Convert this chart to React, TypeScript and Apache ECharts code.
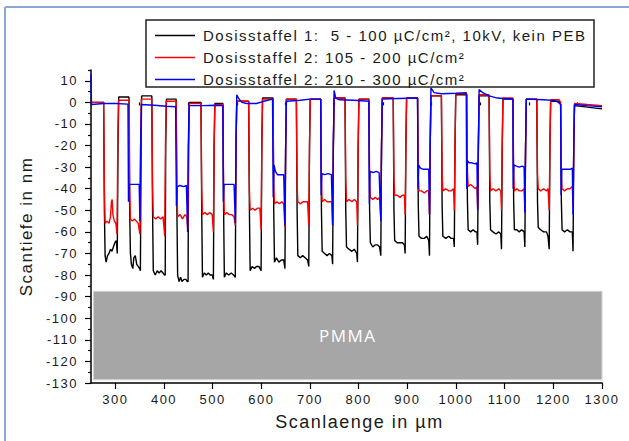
import React, { useEffect, useRef } from "react";
import * as echarts from "echarts";

const seriesNames = [
  "Dosisstaffel 1:  5 - 100 µC/cm², 10kV, kein PEB",
  "Dosisstaffel 2: 105 - 200 µC/cm²",
  "Dosisstaffel 2: 210 - 300 µC/cm²",
];
const seriesColors = ["#000000", "#ff0000", "#0000ff"];

const xMajorTicks = [300, 400, 500, 600, 700, 800, 900, 1000, 1100, 1200, 1300];
const xMinorTicks = [250, 350, 450, 550, 650, 750, 850, 950, 1050, 1150, 1250];
const yMajorTicks = [-130, -120, -110, -100, -90, -80, -70, -60, -50, -40, -30, -20, -10, 0, 10];
const yMinorTicks = [-125, -115, -105, -95, -85, -75, -65, -55, -45, -35, -25, -15, -5, 5, 15];

const pmmaBox = { x0: 255, x1: 1300, y0: -87.5, y1: -128.5, label: "PMMA" };

const black = [
  [250, 0], [276, 0],
  [277.5, -50], [279, -71], [281, -74], [284, -71], [287, -70], [290, -68], [293, -69], [296, -67], [299, -65], [302, -64], [304, -70], [305.5, -20], [307, 2.5],
  [328, 2.5],
  [329.5, -50], [331, -70], [333, -75], [336, -77], [338, -72], [341, -71], [344, -75], [347, -76], [350, -77], [351.5, -78], [353, -20], [354, 3],
  [375, 3],
  [376.5, -50], [378, -78], [382, -80], [386, -78], [390, -79], [394, -78], [398, -79], [401, -80], [402.5, -80], [403.5, -20], [405, 1.5],
  [425, 1.5],
  [426.5, -50], [428, -80], [431, -83], [434, -81], [437, -83], [441, -82], [445, -82], [448, -83], [449.5, -83], [450.5, -20], [452, 0],
  [476, 0],
  [477.5, -50], [479, -81], [483, -79], [487, -80], [491, -79], [495, -80], [499, -80], [501.5, -82], [503, -20], [504.5, -0.5],
  [521, -0.5],
  [522.5, -50], [524, -81], [528, -79], [533, -80], [538, -79], [543, -80], [546.5, -81], [548, -20], [549.5, 0.5],
  [574, 0.5],
  [575.5, -50], [577, -78], [581, -76], [586, -77], [590, -76], [595, -76], [599.5, -78], [601, -20], [602.5, 2],
  [624, 2],
  [625.5, -50], [627, -74], [631, -72], [636, -74], [641, -73], [646, -73], [648.5, -77], [650, -20], [651.5, 1.5],
  [672, 1.5],
  [673.5, -50], [675, -71], [680, -72], [685, -71], [690, -72], [695, -73], [697.5, -76], [699, -20], [700.5, 1.5],
  [722, 1.5],
  [723.5, -50], [725, -69], [730, -70], [735, -71], [740, -70], [745, -71], [746.5, -75], [748, -20], [749.5, 2],
  [772, 2],
  [773.5, -50], [775, -67], [780, -68], [786, -69], [791, -68], [796, -70], [797.5, -74], [799, -20], [800.5, 1.5],
  [821, 1.5],
  [822.5, -50], [824, -65], [829, -67], [834, -66], [839, -66], [843, -67], [845.5, -71], [847, -20], [848.5, 2],
  [871, 2],
  [872.5, -50], [874, -64], [879, -65], [885, -65], [890, -65], [894, -66], [895.5, -70], [897, -20], [898.5, 2],
  [921, 2],
  [922.5, -48], [924, -62], [929, -63], [935, -63], [940, -62], [944, -64], [945.5, -71], [947, -20], [948.5, 3],
  [970, 3],
  [971.5, -48], [973, -62], [979, -63], [985, -62], [990, -63], [995, -63], [996.5, -67], [998, -20], [999.5, 3.5],
  [1022, 3.5],
  [1023.5, -46], [1025, -59], [1030, -60], [1035, -59], [1040, -60], [1043, -60], [1044.5, -66], [1046, -20], [1047.5, 3],
  [1068, 3],
  [1069.5, -46], [1071, -59], [1076, -60], [1082, -61], [1088, -60], [1092, -61], [1093.5, -68], [1095, -20], [1096.5, 1.5],
  [1117, 1.5],
  [1118.5, -46], [1120, -59], [1125, -59], [1130, -60], [1135, -59], [1140, -60], [1141.5, -67], [1143, -20], [1144.5, 1.5],
  [1166, 1.5],
  [1167.5, -46], [1169, -58], [1174, -59], [1180, -60], [1186, -60], [1189, -62], [1191.5, -68], [1193, -20], [1194.5, 0.5],
  [1212, 0.5], [1215, -1],
  [1216.5, -46], [1218, -59], [1223, -60], [1229, -59], [1234, -60], [1239, -60], [1240.5, -69], [1242, -20], [1243.5, -1.5],
  [1270, -2.2], [1300, -3],
];

const red = [
  [250, 0], [276, 0],
  [277.5, -40], [279, -56], [283, -55], [287, -56], [290, -53], [292, -46], [293.5, -45], [295, -52], [298, -55], [301, -56], [303.5, -61], [305, -20], [306.5, 1],
  [328.5, 1],
  [329.5, -40], [331, -54], [335, -55], [339, -54], [343, -55], [347, -56], [350.5, -61], [352, -20], [353.5, 1.5],
  [375, 1.5],
  [376.5, -40], [378, -53], [383, -54], [388, -53], [393, -54], [398, -53], [401.5, -62], [403, -20], [404.5, 0.5],
  [425, 0.5],
  [426.5, -40], [428, -53], [433, -52], [438, -54], [443, -52], [447, -53], [449, -59], [450.5, -20], [452, -0.5],
  [476, -0.5],
  [477.5, -40], [479, -52], [484, -51], [489, -52], [494, -51], [499, -52], [501.5, -60], [503, -20], [504.5, -1],
  [521, -1],
  [522.5, -40], [524, -52], [529, -51], [534, -52], [539, -52], [544, -53], [546.5, -57], [548, -20], [549.5, 0.5],
  [574, 0.5],
  [575.5, -40], [577, -50], [582, -49], [587, -50], [592, -49], [597, -49], [599.5, -59], [601, -20], [602.5, 1.5],
  [624, 1.5],
  [625.5, -38], [627, -47], [632, -46], [637, -47], [642, -46], [646, -47], [648.5, -58], [650, -20], [651.5, 1.5],
  [672, 1.5],
  [673.5, -38], [675, -46], [680, -47], [686, -46], [691, -46], [695, -46], [697.5, -57], [699, -20], [700.5, 1.5],
  [722, 1.5],
  [723.5, -36], [725, -46], [730, -45], [735, -46], [740, -46], [745, -46], [746.5, -57], [748, -20], [749.5, 2],
  [772, 2],
  [773.5, -36], [775, -46], [780, -45], [786, -46], [791, -45], [796, -46], [797.5, -57], [799, -20], [800.5, 1.5],
  [821, 1.5],
  [822.5, -36], [824, -44], [829, -45], [834, -44], [839, -45], [843, -44], [845.5, -54], [847, -20], [848.5, 2],
  [871, 2],
  [872.5, -35], [874, -43], [879, -43], [885, -44], [890, -43], [894, -43], [895.5, -52], [897, -20], [898.5, 2],
  [921, 2],
  [922.5, -34], [924, -41], [929, -41], [935, -42], [940, -41], [944, -41], [945.5, -52], [947, -20], [948.5, 3],
  [970, 3],
  [971.5, -34], [973, -41], [979, -40], [985, -41], [990, -41], [995, -40], [996.5, -50], [998, -20], [999.5, 4],
  [1022, 4],
  [1023.5, -32], [1025, -39], [1030, -38], [1035, -39], [1040, -40], [1043, -39], [1044.5, -49], [1046, -20], [1047.5, 3.5],
  [1068, 3.5],
  [1069.5, -33], [1071, -41], [1076, -40], [1082, -41], [1088, -40], [1092, -41], [1093.5, -50], [1095, -20], [1096.5, 2],
  [1117, 2],
  [1118.5, -33], [1120, -41], [1125, -40], [1130, -41], [1135, -41], [1140, -40], [1141.5, -50], [1143, -20], [1144.5, 1.5],
  [1166, 1.5],
  [1167.5, -33], [1169, -40], [1174, -41], [1180, -40], [1186, -41], [1189, -40], [1191.5, -50], [1193, -20], [1194.5, 1.2],
  [1212, 1.2], [1215, 0],
  [1216.5, -33], [1218, -40], [1223, -41], [1229, -40], [1234, -40], [1239, -39], [1240.5, -48], [1242, -20], [1243.5, -0.5],
  [1270, -1], [1300, -1.5],
];

const blue = [
  [250, 13], [251, -1], [276, -0.5], [300, -0.5], [326, -0.8],
  [327, -46], [328.5, -38], [335, -38], [342, -38], [349, -38], [350.5, -55], [352, -20], [353.5, -1],
  [380, -1.3], [405, -1.8], [424, -2],
  [425.5, -48], [427, -39], [433, -38.5], [440, -39], [446, -38.5], [448.5, -60], [450, -20], [451.5, -1.5],
  [480, -1.5], [505, -1.3], [521, -1.5],
  [522, -46], [523.5, -38], [530, -38], [537, -38], [544, -38], [546.5, -56], [548, -20], [549.5, 3.5],
  [553, 2], [560, 0], [570, -0.5], [590, -0.5], [605, 0.5], [623, 1.5],
  [624.5, -44], [626, -29], [629, -32], [633, -33.5], [640, -33.5], [646, -33.5], [648.5, -57], [650, -20], [651.5, 0.5],
  [680, 1], [700, 1.5], [722, 1.5],
  [723, -43], [724.5, -33], [730, -33.5], [737, -33], [744, -33.5], [746.5, -57], [748, -20], [749.5, 5.5],
  [753, 2], [760, 1.2], [790, 1], [821, 0.5],
  [822, -47], [823.5, -32], [830, -32.5], [836, -32], [842, -32.5], [845.5, -55], [847, -20], [848.5, 1.5],
  [880, 1.8], [921, 2],
  [922, -40], [923.5, -29], [927, -30.5], [933, -31], [939, -31], [944, -31], [945.5, -52], [947, -20], [948.5, 6.7],
  [955, 4.5], [970, 4], [1000, 4.2], [1021, 4.5],
  [1022, -40], [1023.5, -27], [1027, -28], [1033, -28], [1039, -28.5], [1043, -28], [1044.5, -50], [1046, -20], [1047.5, 6],
  [1055, 4.5], [1068, 3], [1085, 2], [1117, 1.5],
  [1117.5, -40], [1119, -29], [1124, -29.5], [1130, -30], [1136, -29.5], [1140, -30], [1141.5, -51], [1143, -20], [1144.5, 1.5],
  [1180, 1.2], [1205, 0.8], [1213, -0.5], [1215, -1],
  [1216, -43], [1217.5, -31], [1223, -31], [1229, -31], [1235, -31], [1239, -30.5], [1240.5, -52], [1242, -20], [1243.5, -1],
  [1270, -1.5], [1300, -2],
];

const FONT = "Liberation Sans, Arial, sans-serif";
const TXT = "#1a1a1a";

export default function App() {
  const ref = useRef<HTMLDivElement>(null);
  useEffect(() => {
    if (!ref.current) return;
    const chart = echarts.init(ref.current, null, { renderer: "svg" });
    const data = [black, red, blue];
    chart.setOption({
      animation: false,
      backgroundColor: "#ffffff",
      textStyle: { fontFamily: FONT },
      grid: { left: 91, top: 70, width: 511, height: 313, containLabel: false },
      legend: {
        orient: "vertical",
        left: 155,
        top: 28,
        padding: 0,
        icon: "rect",
        itemWidth: 40,
        itemHeight: 1.5,
        itemGap: 7,
        z: 20,
        textStyle: { fontSize: 15, lineHeight: 14, color: TXT, fontFamily: FONT, padding: [0, 0, 0, 3] },
        data: seriesNames,
      },
      graphic: [
        { type: "rect", z: 15, shape: { x: 146, y: 20, width: 448, height: 67 }, style: { fill: "#ffffff", stroke: "#222", lineWidth: 1.5 } },
        { type: "line", z: 15, shape: { x1: 5, y1: 7, x2: 5, y2: 441 }, style: { stroke: "#8aa7d6", lineWidth: 2 } },
        { type: "line", z: 15, shape: { x1: 5, y1: 7, x2: 629, y2: 7 }, style: { stroke: "#8aa7d6", lineWidth: 2 } },
      ],
      xAxis: [
        {
          type: "value",
          min: 250,
          max: 1300,
          axisLine: { show: true, onZero: false, lineStyle: { color: "#000", width: 1.5 } },
          axisTick: { show: true, length: 6, customValues: xMajorTicks, lineStyle: { color: "#000", width: 1.2 } },
          axisLabel: {
            show: true,
            customValues: xMajorTicks,
            formatter: (v: number) => String(v),
            fontSize: 13,
            color: TXT,
            margin: 10,
            fontFamily: FONT,
          },
          splitLine: { show: false },
          name: "Scanlaenge in µm",
          nameLocation: "middle",
          nameGap: 30,
          nameTextStyle: { fontSize: 18, color: TXT, fontFamily: FONT, padding: [0, 0, 0, 26] },
        },
        {
          type: "value",
          min: 250,
          max: 1300,
          position: "bottom",
          axisLine: { show: false },
          axisTick: { show: true, length: 3, customValues: xMinorTicks, lineStyle: { color: "#000", width: 1.2 } },
          axisLabel: { show: false },
          splitLine: { show: false },
        },
      ],
      yAxis: [
        {
          type: "value",
          min: -130,
          max: 15,
          axisLine: { show: true, onZero: false, lineStyle: { color: "#000", width: 1.5 } },
          axisTick: { show: true, length: 6, customValues: yMajorTicks, lineStyle: { color: "#000", width: 1.2 } },
          axisLabel: {
            show: true,
            customValues: yMajorTicks,
            formatter: (v: number) => String(v),
            fontSize: 13,
            color: TXT,
            margin: 13,
            fontFamily: FONT,
          },
          splitLine: { show: false },
          name: "Scantiefe in nm",
          nameLocation: "middle",
          nameGap: 56,
          nameTextStyle: { fontSize: 17, color: TXT, fontFamily: FONT },
        },
        {
          type: "value",
          min: -130,
          max: 15,
          position: "left",
          axisLine: { show: false },
          axisTick: { show: true, length: 3, customValues: yMinorTicks, lineStyle: { color: "#000", width: 1.2 } },
          axisLabel: { show: false },
          splitLine: { show: false },
        },
      ],
      series: seriesNames.map((name, i) => ({
        name,
        type: "line",
        xAxisIndex: 0,
        yAxisIndex: 0,
        data: data[i],
        symbol: "none",
        showSymbol: false,
        color: seriesColors[i],
        lineStyle: { color: seriesColors[i], width: 1.4 },
        z: 2 + i,
        silent: true,
        markArea:
          i === 0
            ? {
                silent: true,
                itemStyle: { color: "#a6a6a6", borderColor: "#d4d4d4", borderWidth: 1 },
                label: { show: true, position: "inside", color: "#ffffff", fontSize: 17, fontFamily: "Open Sans, sans-serif" },
                data: [[{ name: pmmaBox.label, xAxis: pmmaBox.x0, yAxis: pmmaBox.y0 }, { xAxis: pmmaBox.x1, yAxis: pmmaBox.y1 }]],
              }
            : undefined,
      })),
    });
    return () => chart.dispose();
  }, []);
  return (
    <div
      ref={ref}
      style={{ position: "fixed", left: 0, top: 0, width: 629, height: 441, letterSpacing: "1.5px" }}
    />
  );
}
